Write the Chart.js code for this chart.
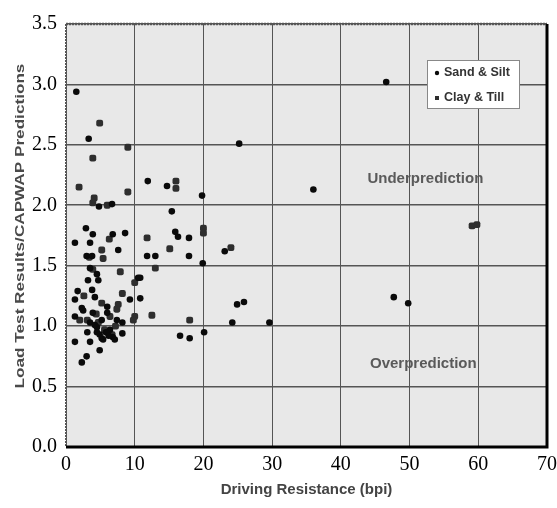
<!DOCTYPE html>
<html>
<head>
<meta charset="utf-8">
<script src="https://cdn.jsdelivr.net/npm/chart.js@4.4.1/dist/chart.umd.min.js"></script>
<style>
  html, body { margin: 0; padding: 0; background: #fff; }
</style>
</head>
<body>
<canvas id="c" width="557" height="508"></canvas>
<script>
// ── data ──
const seriesNames = ['Sand & Silt', 'Clay & Till'];

const sandX = [1.5,3.3,11.9,14.7,19.8,25.2,36.0,46.6,47.7,49.8,29.6,15.4,15.9,16.3,17.9,11.8,13.0,17.9,19.9,23.1,
  10.8,10.8,24.9,25.9,24.2,16.6,18.0,20.1,2.9,3.9,6.8,8.6,1.3,3.5,7.6,3.0,3.8,3.5,3.2,4.7,
  10.5,3.8,1.7,4.2,1.3,9.3,2.3,3.9,1.3,6.0,3.5,4.5,3.1,4.5,4.9,5.2,5.4,6.4,6.8,7.1,
  8.2,1.3,3.5,4.9,3.0,2.3,8.2,5.2,7.4,6.7,4.8,4.5,2.5,6.0,4.2,5.8,6.2];
const sandY = [2.94,2.55,2.20,2.16,2.08,2.51,2.13,3.02,1.24,1.19,1.03,1.95,1.78,1.74,1.73,1.58,1.58,1.58,1.52,1.62,
  1.40,1.23,1.18,1.20,1.03,0.92,0.90,0.95,1.81,1.76,1.76,1.77,1.69,1.69,1.63,1.58,1.58,1.48,1.38,1.38,
  1.40,1.30,1.29,1.24,1.22,1.22,1.15,1.11,1.08,1.11,1.03,0.99,0.95,0.95,0.93,0.90,0.89,0.97,0.91,0.89,
  0.94,0.87,0.87,0.80,0.75,0.70,1.03,1.05,1.05,2.01,1.99,1.43,1.13,1.16,1.01,0.95,0.92];

const clayX = [4.9,9.0,3.9,1.9,9.0,4.1,3.9,6.0,16.0,16.0,59.1,59.8,20.0,20.0,11.8,15.1,24.0,13.0,12.5,18.0,
  6.3,5.2,5.4,3.9,7.9,10.0,8.2,5.2,7.6,7.4,6.4,10.0,3.1,4.7,6.7,2.6,3.4,9.8,4.4,5.6,7.2,2.0];
const clayY = [2.68,2.48,2.39,2.15,2.11,2.06,2.02,2.00,2.20,2.14,1.83,1.84,1.81,1.77,1.73,1.64,1.65,1.48,1.09,1.05,
  1.72,1.63,1.56,1.47,1.45,1.36,1.27,1.19,1.18,1.14,1.08,1.08,1.05,1.03,0.93,1.25,1.57,1.05,1.10,0.97,1.00,1.05];

const xTicks = [0, 10, 20, 30, 40, 50, 60, 70];
const yTicks = [0.0, 0.5, 1.0, 1.5, 2.0, 2.5, 3.0, 3.5];

const notes = [
  { text: 'Underprediction', x: 52.3, y: 2.22 },
  { text: 'Overprediction',  x: 52.0, y: 0.69 }
];

const toPoints = (xs, ys) => xs.map((x, i) => ({ x: x, y: ys[i] }));

// ── frame, notes, legend and y title ──
const decor = {
  id: 'decor',
  beforeDraw(chart) {
    const { ctx, chartArea: a } = chart;
    ctx.save();
    ctx.fillStyle = '#e8e8e8';
    ctx.fillRect(a.left, a.top, a.right - a.left, a.bottom - a.top);
    ctx.restore();
  },
  afterDraw(chart) {
    const { ctx, chartArea: a, scales } = chart;
    ctx.save();
    // frame
    ctx.strokeStyle = '#555';
    ctx.lineWidth = 2.5;
    ctx.setLineDash([2, 1]);
    ctx.beginPath(); ctx.moveTo(a.left, a.top); ctx.lineTo(a.right, a.top); ctx.stroke();
    ctx.lineWidth = 2;
    ctx.beginPath(); ctx.moveTo(a.left, a.top); ctx.lineTo(a.left, a.bottom); ctx.stroke();
    ctx.setLineDash([]);
    ctx.strokeStyle = '#000';
    ctx.lineWidth = 3;
    ctx.beginPath(); ctx.moveTo(a.left, a.bottom); ctx.lineTo(a.right, a.bottom); ctx.lineTo(a.right, a.top); ctx.stroke();

    // region notes
    ctx.fillStyle = '#5a5a5a';
    ctx.font = 'bold 15px "Liberation Sans", Arial, sans-serif';
    ctx.textAlign = 'center';
    ctx.textBaseline = 'middle';
    notes.forEach(n => ctx.fillText(n.text, scales.x.getPixelForValue(n.x), scales.y.getPixelForValue(n.y)));

    // legend box
    const lx = 427, ly = 60, lw = 92, lh = 48;
    ctx.fillStyle = '#fff';
    ctx.fillRect(lx, ly, lw, lh);
    ctx.strokeStyle = '#888';
    ctx.lineWidth = 1;
    ctx.strokeRect(lx + 0.5, ly + 0.5, lw, lh);
    ctx.font = 'bold 12.5px "Liberation Sans", Arial, sans-serif';
    ctx.textAlign = 'left';
    chart.data.datasets.forEach((ds, i) => {
      const cy = ly + 13 + i * 25;
      ctx.fillStyle = ds.backgroundColor;
      if (ds.pointStyle === 'circle') {
        ctx.beginPath(); ctx.arc(lx + 10, cy, 2.2, 0, Math.PI * 2); ctx.fill();
      } else {
        ctx.fillRect(lx + 8, cy - 2, 4, 4);
      }
      ctx.fillStyle = '#333';
      ctx.fillText(ds.label, lx + 17, cy);
    });

    // y axis title, stretched like the original
    ctx.translate(20, 226);
    ctx.rotate(-Math.PI / 2);
    ctx.scale(1.32, 1);
    ctx.fillStyle = '#4a4a4a';
    ctx.font = 'bold 13px "Liberation Sans", Arial, sans-serif';
    ctx.textAlign = 'center';
    ctx.fillText('Load Test Results/CAPWAP Predictions', 0, 0);
    ctx.restore();
  }
};

const tickFont = { family: '"Liberation Serif", "Times New Roman", serif', size: 20 };

new Chart(document.getElementById('c').getContext('2d'), {
  type: 'scatter',
  data: {
    datasets: [
      { label: seriesNames[0], data: toPoints(sandX, sandY), pointStyle: 'circle', radius: 3.3, hoverRadius: 3.3,
        backgroundColor: '#0a0a0a', borderWidth: 0 },
      { label: seriesNames[1], data: toPoints(clayX, clayY), pointStyle: 'rectRounded', radius: 4, hoverRadius: 4,
        backgroundColor: '#2e2e2e', borderWidth: 0 }
    ]
  },
  options: {
    responsive: false,
    animation: false,
    layout: { padding: { left: 0, right: 10, top: 24, bottom: 0 } },
    plugins: { legend: { display: false }, tooltip: { enabled: false } },
    scales: {
      x: {
        type: 'linear', min: 0, max: 70,
        afterBuildTicks: s => { s.ticks = xTicks.map(v => ({ value: v })); },
        afterFit: s => { s.height = 61; s.paddingLeft = 0; s.paddingRight = 0; },
        grid: { color: '#555', lineWidth: 1, drawTicks: false },
        border: { display: false },
        ticks: { font: tickFont, color: '#000', padding: 6 },
        title: { display: true, text: 'Driving Resistance (bpi)', color: '#444',
          font: { family: '"Liberation Sans", Arial, sans-serif', size: 15, weight: 'bold' }, padding: { top: 0, bottom: 9 } }
      },
      y: {
        type: 'linear', min: 0, max: 3.5,
        afterBuildTicks: s => { s.ticks = yTicks.map(v => ({ value: v })); },
        afterFit: s => { s.width = 66; s.paddingTop = 0; s.paddingBottom = 0; },
        grid: { color: '#555', lineWidth: 1.6, drawTicks: false },
        border: { display: false },
        ticks: { font: tickFont, color: '#000', padding: 9, callback: v => v.toFixed(1) }
      }
    }
  },
  plugins: [decor]
});
</script>
</body>
</html>
